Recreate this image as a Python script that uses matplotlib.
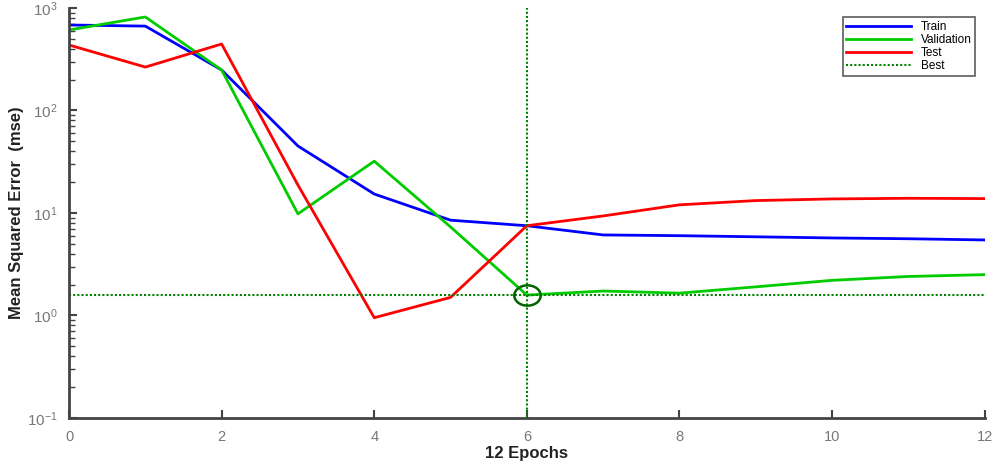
import matplotlib.pyplot as plt
from matplotlib.path import Path
from matplotlib.transforms import Affine2D

plt.rcParams['font.family'] = ['Liberation Sans', 'DejaVu Sans']
plt.rcParams['mathtext.fontset'] = 'custom'
plt.rcParams['mathtext.rm'] = 'Liberation Sans'
plt.rcParams['mathtext.it'] = 'Liberation Sans:italic'
plt.rcParams['mathtext.bf'] = 'Liberation Sans:bold'
plt.rcParams['axes.unicode_minus'] = False

epochs = list(range(13))
train = [682, 665, 248, 45, 15.3, 8.5, 7.5, 6.1, 6.0, 5.85, 5.7, 5.6, 5.45]
validation = [610, 817, 248, 9.8, 32, 7.3, 1.58, 1.73, 1.65, 1.9, 2.2, 2.4, 2.5]
test = [435, 265, 445, 18.7, 0.95, 1.5, 7.5, 9.35, 12, 13.2, 13.7, 13.9, 13.8]
best_epoch = 6
best_value = 1.58

fig = plt.figure(figsize=(9.92, 4.68), dpi=100)
ax = fig.add_axes([0.0696, 0.107, 0.923, 0.876])

ax.plot(epochs, train, color='#0000ff', lw=2, label='Train')
ax.plot(epochs, validation, color='#00cc00', lw=2, label='Validation')
ax.plot(epochs, test, color='#ff0000', lw=2, label='Test')
ax.axhline(best_value, color='#008000', lw=1.5, ls=(0, (1, 1)), label='Best')
ax.axvline(best_epoch, color='#008000', lw=1.5, ls=(0, (1, 1)))

ax.set_yscale('log')
ax.set_xlim(0, 12)
ax.set_ylim(0.1, 1000)
ax.set_xticks([0, 2, 4, 6, 8, 10, 12])

# slightly wide ellipse around the best point
ellipse = Path.unit_circle().transformed(Affine2D().scale(1.3, 1.0))
ax.plot([best_epoch], [best_value], marker=ellipse, ms=19, mfc='none', mec='#006400', mew=1.8)

for s in ['top', 'right']:
    ax.spines[s].set_visible(False)
for s in ['left', 'bottom']:
    ax.spines[s].set_color('#444444')
    ax.spines[s].set_linewidth(2)

ax.tick_params(direction='in', colors='#444444', labelcolor='#777777', width=1.5, length=6)
ax.tick_params(axis='x', labelsize=10.5, pad=9)
ax.tick_params(axis='y', labelsize=11, pad=8)
ax.tick_params(which='minor', direction='in', colors='#444444', width=1, length=4)

ax.set_xlabel('12 Epochs', fontsize=12, fontweight='bold', color='#222222', labelpad=1)
ax.set_ylabel('Mean Squared Error  (mse)', fontsize=12, fontweight='bold', color='#222222')
ax.yaxis.set_label_coords(-0.049, 0.5)

leg = ax.legend(loc='upper right', fontsize=8.5, fancybox=False, frameon=True,
                borderpad=0.3, handlelength=5.5, labelspacing=0.1, borderaxespad=0.8)
leg.get_frame().set_edgecolor('#333333')
leg.get_frame().set_linewidth(1.2)

fig.savefig('out.png', dpi=100)
